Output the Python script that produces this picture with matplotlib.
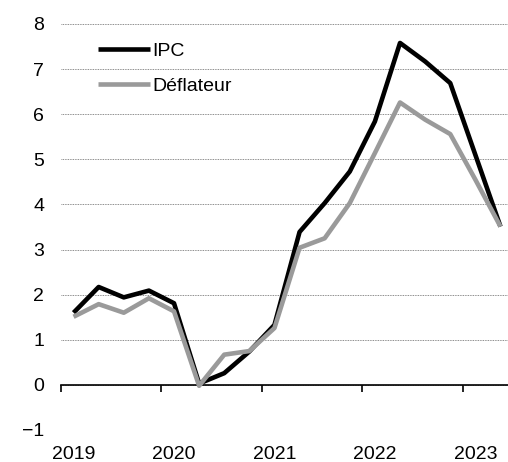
import numpy as np
import matplotlib
matplotlib.use('Agg')
import matplotlib.pyplot as plt

plt.rcParams['font.family'] = ['Liberation Sans', 'DejaVu Sans']

# quarterly, 2019Q1 .. 2023Q2
years = ['2019', '2020', '2021', '2022', '2023']
ipc = [1.60, 2.17, 1.94, 2.09, 1.81,
       0.03, 0.26, 0.74, 1.33,
       3.39, 4.03, 4.73, 5.84,
       7.58, 7.17, 6.69, 5.10, 3.51]
deflateur = [1.51, 1.79, 1.60, 1.92, 1.63,
             -0.02, 0.67, 0.75, 1.26,
             3.04, 3.25, 4.03, 5.14,
             6.26, 5.88, 5.56, 4.55, 3.51]

x = np.arange(len(ipc))

fig = plt.figure(figsize=(5.08, 4.62), dpi=100)
ax = fig.add_axes([61/508, 32/462, 447/508, 406/462])

ax.plot(x, ipc, color='black', lw=3.3, label='IPC', solid_capstyle='butt', zorder=3)
ax.plot(x, deflateur, color='#9a9a9a', lw=3.3, label='Déflateur', solid_capstyle='butt', zorder=4)

ax.set_xlim(-0.5, 17.3)
ax.set_ylim(-1, 8)

# dotted horizontal grid
ax.set_yticks(range(-1, 9))
ax.yaxis.grid(True, linestyle=(0, (1, 1)), color='#666666', lw=0.6)
ax.set_axisbelow(True)
ax.tick_params(axis='y', length=0, pad=12, labelsize=14)

for s in ['left', 'right', 'top']:
    ax.spines[s].set_visible(False)
ax.spines['bottom'].set_position(('data', 0))
ax.spines['bottom'].set_linewidth(1.2)

# year boundary ticks on the zero line, year labels at the bottom
ax.set_xticks(np.arange(-0.5, 17.5, 4))
ax.set_xticklabels([])
ax.tick_params(axis='x', direction='out', length=5, width=1.2)
for i, yr in enumerate(years):
    ax.text(4 * i, -0.04, yr, transform=ax.get_xaxis_transform(),
            ha='center', va='top', fontsize=14)

leg = ax.legend(loc='upper left', bbox_to_anchor=(0.065, 0.975), frameon=False,
                fontsize=14, handlelength=2.7, handletextpad=0.1,
                labelspacing=0.9, borderaxespad=0)

fig.savefig('out.png', dpi=100)
